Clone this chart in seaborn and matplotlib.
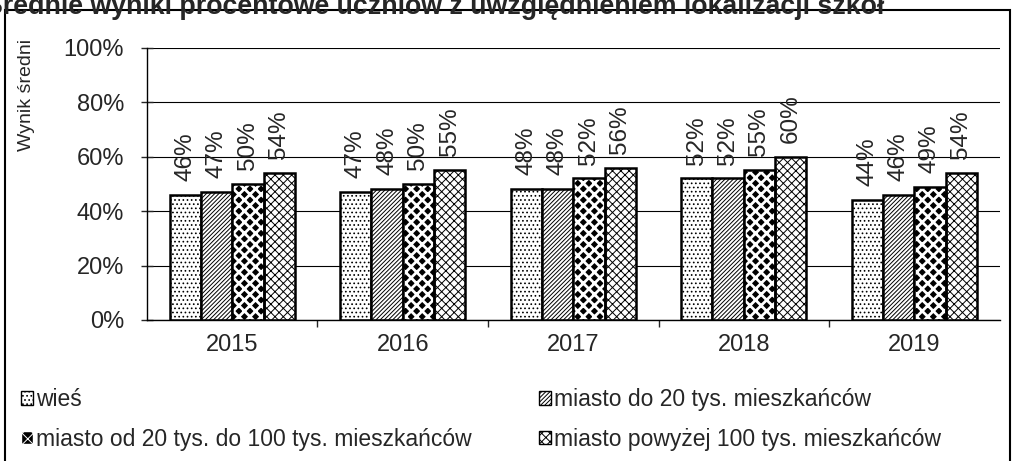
import numpy as np
import pandas as pd
import matplotlib
matplotlib.use("Agg")
import matplotlib.pyplot as plt
from matplotlib.patches import Rectangle, Patch
from matplotlib.ticker import FixedLocator
import seaborn as sns

years = ["2015", "2016", "2017", "2018", "2019"]
groups = ["wieś", "miasto do 20 tys. mieszkańców",
          "miasto od 20 tys. do 100 tys. mieszkańców",
          "miasto powyżej 100 tys. mieszkańców"]
wies = [46, 47, 48, 52, 44]
do20 = [47, 48, 48, 52, 46]
od20do100 = [50, 50, 52, 55, 49]
pow100 = [54, 55, 56, 60, 54]

df = pd.DataFrame({
    "rok": years * 4,
    "grupa": [g for g in groups for _ in years],
    "wynik": wies + do20 + od20do100 + pow100,
})

sns.set_style("white")
plt.rcParams["font.family"] = ["Liberation Sans", "DejaVu Sans"]
plt.rcParams["hatch.linewidth"] = 0.7

fig = plt.figure(figsize=(10.15, 4.61), dpi=100)
ax = fig.add_axes([0.1448, 0.306, 0.840, 0.590])

sns.barplot(data=df, x="rok", y="wynik", hue="grupa", hue_order=groups,
            order=years, width=0.735, palette=["white"] * 4,
            edgecolor="black", linewidth=1.8, legend=False, ax=ax)

hatches = ["....", "////////", None, "xxxx"]
for cont, h, vals in zip(ax.containers, hatches, [wies, do20, od20do100, pow100]):
    for bar in cont:
        if h is None:
            # black diamonds: black fill crossed by thick white lines
            bar.set_facecolor("black")
            bar.set_edgecolor("white")
            bar.set_hatch("xxx")
            if hasattr(bar, "set_hatch_linewidth"):
                bar.set_hatch_linewidth(2.0)
            bar.set_linewidth(0)
            ax.add_patch(Rectangle((bar.get_x(), 0), bar.get_width(), bar.get_height(),
                                   fill=False, edgecolor="black", linewidth=1.8, zorder=3))
        else:
            bar.set_hatch(h)
    ax.bar_label(cont, labels=[f"{v}%" for v in vals], rotation=90,
                 padding=10, fontsize=17.5)

ax.set_ylim(0, 100)
ax.set_yticks([0, 20, 40, 60, 80, 100])
ax.set_yticklabels([f"{t}%" for t in [0, 20, 40, 60, 80, 100]], fontsize=17)
ax.set_xlim(-0.5, 4.5)
ax.tick_params(axis="x", which="major", length=0, labelsize=17, pad=10)
ax.xaxis.set_minor_locator(FixedLocator([0.5, 1.5, 2.5, 3.5]))
ax.tick_params(axis="x", which="minor", length=5, width=1, direction="out", bottom=True)
ax.tick_params(axis="y", length=9, width=1, direction="inout", left=True, pad=12)
ax.yaxis.grid(True, color="black", linewidth=0.8)
ax.set_axisbelow(True)
for s in ["top", "right"]:
    ax.spines[s].set_visible(False)
for s in ["left", "bottom"]:
    ax.spines[s].set_color("black")
    ax.spines[s].set_linewidth(1)
ax.set_xlabel("")
ax.set_ylabel("Wynik średni", fontsize=14)
ax.yaxis.set_label_coords(-0.131, 0.827)

# figure frame
fig.patches.append(Rectangle((0.005, -0.02), 0.99, 0.998, transform=fig.transFigure,
                             fill=False, edgecolor="black", linewidth=1.5))

fig.text(-15 / 1015, 1 - 13.5 / 461, "Średnie wyniki procentowe uczniów z uwzględnieniem lokalizacji szkół",
         fontsize=19.3, fontweight="bold", ha="left", va="baseline")

handles = [
    Patch(facecolor="white", edgecolor="black", hatch="...."),
    Patch(facecolor="black", edgecolor="white", hatch="xxx"),
    Patch(facecolor="white", edgecolor="black", hatch="////////"),
    Patch(facecolor="white", edgecolor="black", hatch="xxxx"),
]
labels = [groups[0], groups[2], groups[1], groups[3]]
fig.legend(handles, labels, loc="upper left", bbox_to_anchor=(0.012, 0.178),
           ncol=2, frameon=False, fontsize=16.5, handlelength=0.5, handleheight=0.5,
           handletextpad=0.15, columnspacing=2.95, labelspacing=0.72, borderaxespad=0)

fig.savefig("out.png", dpi=100)
